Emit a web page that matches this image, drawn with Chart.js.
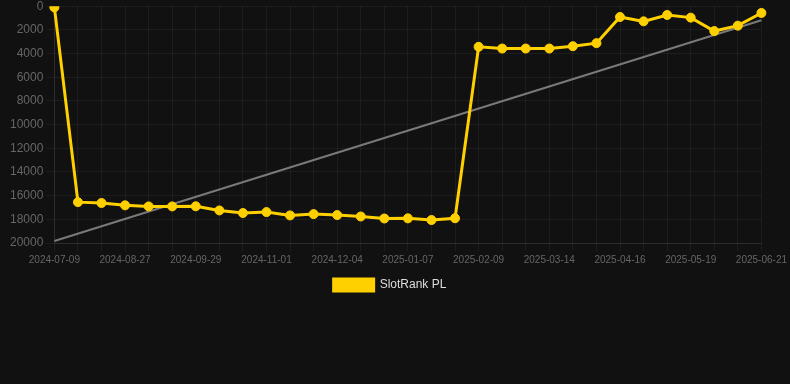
<!DOCTYPE html>
<html>
<head>
<meta charset="utf-8">
<script src="https://cdn.jsdelivr.net/npm/chart.js@4"></script>
<style>
html,body{margin:0;padding:0;background:#111111;overflow:hidden;}
#wrap{width:790px;height:305px;position:relative;margin-top:-4px;}
</style>
</head>
<body>
<div id="wrap"><canvas id="c"></canvas></div>
<script>
const categories = [
  "2024-07-09","2024-08-05","2024-08-16","2024-08-27","2024-09-07","2024-09-18",
  "2024-09-29","2024-10-10","2024-10-21","2024-11-01","2024-11-12","2024-11-23",
  "2024-12-04","2024-12-15","2024-12-26","2025-01-07","2025-01-18","2025-01-29",
  "2025-02-09","2025-02-20","2025-03-03","2025-03-14","2025-03-25","2025-04-05",
  "2025-04-16","2025-04-27","2025-05-08","2025-05-19","2025-05-30","2025-06-10",
  "2025-06-21"
];
const rankValues = [
  100, 16550, 16620, 16820, 16910, 16910,
  16900, 17250, 17470, 17390, 17670, 17560,
  17640, 17760, 17930, 17920, 18060, 17910,
  3430, 3575, 3575, 3575, 3380, 3120,
  910, 1280, 740, 965, 2100, 1645,
  570
];
const trendStart = 19830;
const trendEnd = 1190;
const trendValues = categories.map((_, i) => i === 0 ? trendStart : (i === categories.length - 1 ? trendEnd : null));
const yTicks = [0,2000,4000,6000,8000,10000,12000,14000,16000,18000,20000];

new Chart(document.getElementById('c'), {
  type: 'line',
  data: {
    labels: categories,
    datasets: [
      {
        label: 'SlotRank PL',
        data: rankValues,
        borderColor: '#FFD000',
        backgroundColor: '#FFD000',
        borderWidth: 3,
        pointRadius: 4.5,
        pointHoverRadius: 4.5,
        pointBorderWidth: 1,
        pointBackgroundColor: '#FFD000',
        pointBorderColor: '#FFD000',
        tension: 0,
        order: 1
      },
      {
        label: 'trend',
        data: trendValues,
        borderColor: 'rgba(140,140,140,0.85)',
        borderWidth: 2,
        pointRadius: 0,
        spanGaps: true,
        fill: false,
        order: 2
      }
    ]
  },
  options: {
    responsive: true,
    maintainAspectRatio: false,
    animation: false,
    layout: { padding: { top: 0, right: 17, left: 7, bottom: 0 } },
    plugins: {
      legend: {
        position: 'bottom',
        labels: {
          filter: (item) => item.text === 'SlotRank PL',
          color: '#dddddd',
          boxWidth: 40,
          boxHeight: 12,
          font: { family: 'Liberation Sans, Arial, sans-serif', size: 12 }
        }
      },
      tooltip: { enabled: false }
    },
    scales: {
      x: {
        offset: false,
        grid: { color: 'rgba(255,255,255,0.05)', drawTicks: true, tickColor: 'rgba(255,255,255,0.05)' },
        border: { color: 'rgba(255,255,255,0.08)' },
        ticks: {
          color: '#666666',
          autoSkip: false,
          maxRotation: 0,
          font: { family: 'Liberation Sans, Arial, sans-serif', size: 10 },
          callback: function(v, i) { return i % 3 === 0 ? categories[i] : ''; }
        }
      },
      y: {
        reverse: true,
        min: 0,
        max: 20000,
        afterBuildTicks: (axis) => { axis.ticks = yTicks.map(v => ({ value: v })); },
        grid: { color: 'rgba(255,255,255,0.05)' },
        border: { color: 'rgba(255,255,255,0.08)' },
        ticks: {
          color: '#666666',
          font: { family: 'Liberation Sans, Arial, sans-serif', size: 12 },
          callback: (v) => String(v)
        }
      }
    }
  }
});
</script>
</body>
</html>
